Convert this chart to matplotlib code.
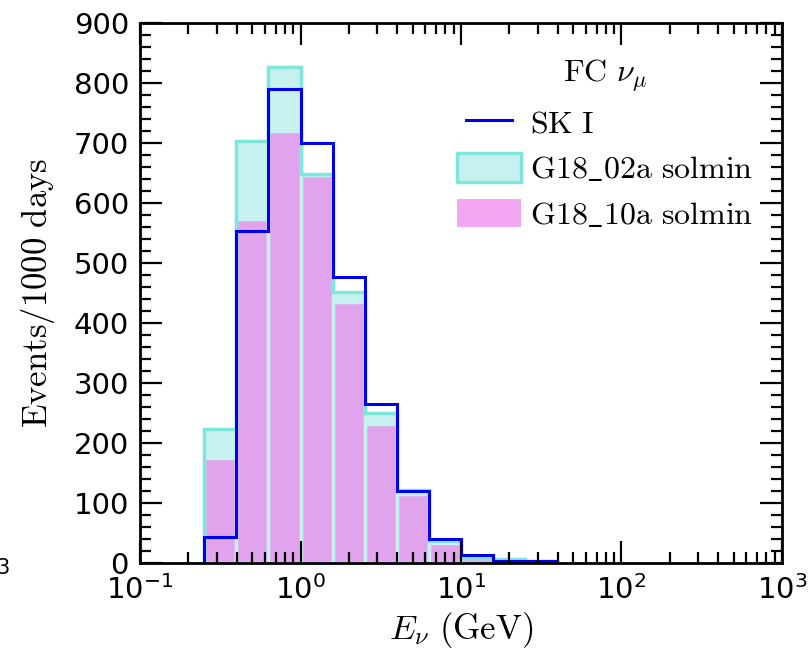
import numpy as np
import matplotlib
matplotlib.use("Agg")
import matplotlib.pyplot as plt
from matplotlib.lines import Line2D
from matplotlib.patches import Patch
from matplotlib.legend_handler import HandlerLine2D

plt.rcParams['mathtext.fontset'] = 'cm'

# 5 bins per decade, 10^-0.6 .. 10^1.6 GeV
bin_edges = 10 ** np.linspace(-0.6, 1.6, 12)
sk1 = [43, 554, 791, 700, 477, 266, 120, 40, 13, 4, 3]
g18_02a = [223, 704, 827, 648, 452, 250, 122, 36, 9, 6, 3]
g18_10a = [175, 574, 720, 647, 436, 232, 116, 33, 8, 4, 2]

labels = [r'$\mathrm{SK\ I}$', r'$\mathrm{G18\_02a\ solmin}$', r'$\mathrm{G18\_10a\ solmin}$']

cyan_face = '#c6f1ef'
cyan_edge = '#7fe6dc'
pink = (238/255, 130/255, 238/255, 0.7)

fig = plt.figure(figsize=(8.08, 6.54), dpi=100)
ax = fig.add_axes([0.1733, 0.139, 0.7945, 0.8255])

centers = np.sqrt(bin_edges[:-1] * bin_edges[1:])
ax.hist(centers, bins=bin_edges, weights=g18_02a, histtype='stepfilled',
        facecolor=cyan_face, edgecolor='none', zorder=1)
ax.hist(centers, bins=bin_edges, weights=g18_10a, histtype='bar',
        facecolor=pink, edgecolor=cyan_face, linewidth=2.5, zorder=1.2)
ax.hist(centers, bins=bin_edges, weights=g18_02a, histtype='step',
        color=cyan_edge, linewidth=2.5, zorder=1.4)
ax.hist(centers, bins=bin_edges, weights=sk1, histtype='step',
        color='#0000f0', linewidth=2.2, zorder=1.6)

ax.set_xscale('log')
ax.set_xlim(0.1, 1000)
ax.set_ylim(0, 900)
ax.set_yticks(np.arange(0, 901, 100))
ax.yaxis.set_minor_locator(matplotlib.ticker.MultipleLocator(20))

# ticks and frame on top of the bars
ax.set_axisbelow(False)
for s in ax.spines.values():
    s.set_linewidth(2)
ax.tick_params(which='both', direction='in', top=True, right=True, width=1.6,
               color='black')
ax.tick_params(which='major', length=16, labelsize=21)
ax.tick_params(which='minor', length=8)
ax.tick_params(axis='y', pad=8)
ax.tick_params(axis='x', pad=9)

ax.set_ylabel(r'$\mathrm{Events/1000\ days}$', fontsize=25, labelpad=12)
ax.set_xlabel(r'$E_\nu\ \mathrm{(GeV)}$', fontsize=25, labelpad=3)

handles = [Line2D([], [], color='#0000f0', linewidth=2.2),
           Patch(facecolor=cyan_face, edgecolor=cyan_edge, linewidth=2.5),
           Patch(facecolor=pink, edgecolor='none')]
leg = ax.legend(handles, labels, title=r'$\mathrm{FC}\ \nu_\mu$', loc='upper right',
                frameon=False, fontsize=23, title_fontsize=23, handlelength=2.0,
                handleheight=1.0, labelspacing=0.42, handletextpad=0.3,
                borderaxespad=0.5, bbox_to_anchor=(1.0, 0.99),
                handler_map={Line2D: HandlerLine2D(numpoints=2, marker_pad=0.28)})

# clipped tick label from the neighbouring panel
fig.text(-0.004, 0.122, '3', fontsize=15)

fig.savefig('out.png', dpi=100)
